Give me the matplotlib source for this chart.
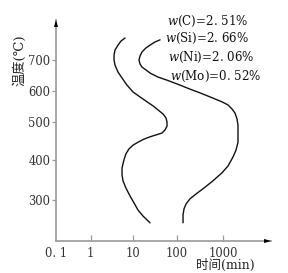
import numpy as np
import matplotlib
matplotlib.use("Agg")
import matplotlib.pyplot as plt
from matplotlib.ticker import FixedLocator, FixedFormatter, NullLocator

# ---------------- data ----------------
x_ticks = [0.1, 1, 10, 100, 1000]
x_tick_labels = ["0. 1", "1", "10", "100", "1000"]
y_ticks = [300, 400, 500, 600, 700]
y_tick_labels = ["300", "400", "500", "600", "700"]

# start-of-transformation curve (time in min, temperature in C)
start_time = [6.47, 5.2, 4.42, 3.75, 3.56, 3.56, 3.75, 4.42, 5.5, 7.2, 10, 14.4, 21, 28.7,
              37.3, 48.6, 56.9, 60, 60, 54, 46, 33.6, 24.5, 17.9, 13.1, 10, 8.0, 6.8,
              6.1, 5.5, 5.5, 5.8, 6.8, 8.5, 10.5, 13.0, 16.9, 24.5]
start_temp = [771, 761, 748, 732, 716, 700, 684, 661, 642, 619, 597, 581, 565, 552,
              539, 526, 513, 500, 489, 479, 471, 466, 461, 455, 447, 439, 429, 416,
              400, 380, 363, 348, 330, 310, 293, 275, 260, 243]
# finish-of-transformation curve
finish_time = [41.5, 31.8, 24.5, 19.8, 16.1, 14.5, 13.7, 14.5, 16.1, 19.8, 24.5, 37.3, 60,
               118, 194, 318, 608, 951, 1282, 1565, 1815, 2005, 2108, 2108, 2108, 1910,
               1645, 1282, 951, 608, 389, 261, 194, 159, 144, 137, 137, 137]
finish_temp = [765, 758, 748, 739, 726, 713, 700, 687, 677, 668, 658, 645, 635,
               619, 606, 594, 577, 565, 555, 542, 529, 510, 492, 471, 447, 426,
               408, 385, 368, 348, 330, 315, 303, 290, 278, 263, 253, 243]

composition = ["$w$(C)=2. 51%", "$w$(Si)=2. 66%", "$w$(Ni)=2. 06%", "$w$(Mo)=0. 52%"]
x_label = "时间(min)"
y_label = "温度(℃)"

# ---------------- scale helpers (hand-drawn, non-uniform axes) ----------------
def make_interp(xk, yk):
    xk = np.asarray(xk, float)
    yk = np.asarray(yk, float)
    s0 = (yk[1] - yk[0]) / (xk[1] - xk[0])
    s1 = (yk[-1] - yk[-2]) / (xk[-1] - xk[-2])

    def f(v):
        v = np.asarray(v, float)
        out = np.interp(v, xk, yk)
        out = np.where(v < xk[0], yk[0] + (v - xk[0]) * s0, out)
        out = np.where(v > xk[-1], yk[-1] + (v - xk[-1]) * s1, out)
        return out
    return f

W, H = 288, 273
# x: log10(time) -> pixel column
xk_log = [-1, 0, 1, 2, 3]
xk_pos = [56, 90.7, 133, 176.7, 223]
_xf = make_interp(xk_log, xk_pos)
_xi = make_interp(xk_pos, xk_log)

def x_forward(v):
    v = np.asarray(v, float)
    return _xf(np.log10(np.clip(v, 1e-12, None)))

def x_inverse(p):
    return 10 ** _xi(p)

# y: temperature -> pixel height from bottom
yk_T = [300, 400, 500, 600, 700]
yk_pos = [H - 200, H - 160, H - 122, H - 91, H - 60]
y_forward = make_interp(yk_T, yk_pos)
y_inverse = make_interp(yk_pos, yk_T)

# ---------------- figure ----------------
plt.rcParams["mathtext.fontset"] = "dejavuserif"
fig = plt.figure(figsize=(W / 100, H / 100), dpi=100)
left_px, right_px, top_px, bot_px = 56, 271, 20, 241
ax = fig.add_axes([left_px / W, 1 - bot_px / H, (right_px - left_px) / W, (bot_px - top_px) / H])

ax.set_xscale("function", functions=(x_forward, x_inverse))
ax.set_yscale("function", functions=(y_forward, y_inverse))
ax.set_xlim(0.1, float(x_inverse(right_px)))
ax.set_ylim(float(y_inverse(H - bot_px)), float(y_inverse(H - top_px)))

ax.plot(start_time, start_temp, color="#111111", lw=1.0, solid_capstyle="round",
        solid_joinstyle="round")
ax.plot(finish_time, finish_temp, color="#111111", lw=1.0, solid_capstyle="round",
        solid_joinstyle="round")

serif = ["DejaVu Serif"]
ax.xaxis.set_major_locator(FixedLocator(x_ticks))
ax.xaxis.set_major_formatter(FixedFormatter(x_tick_labels))
ax.xaxis.set_minor_locator(NullLocator())
ax.yaxis.set_major_locator(FixedLocator(y_ticks))
ax.yaxis.set_major_formatter(FixedFormatter(y_tick_labels))
ax.yaxis.set_minor_locator(NullLocator())

gray = "#9a9a9a"
ax.tick_params(axis="x", direction="in", length=4, width=0.9, color=gray, pad=4,
               labelsize=8.3, labelcolor="#333333")
ax.tick_params(axis="y", direction="out", length=3, width=0.9, color=gray, pad=1,
               labelsize=8.3, labelcolor="#333333")
for lab in ax.get_xticklabels() + ax.get_yticklabels():
    lab.set_fontfamily(serif)
ax.xaxis.get_major_ticks()[0].tick1line.set_visible(False)

for s in ["top", "right"]:
    ax.spines[s].set_visible(False)
for s in ["left", "bottom"]:
    ax.spines[s].set_color(gray)
    ax.spines[s].set_linewidth(1.2)

# arrow heads
ax.annotate("", xy=(0, 1.0), xytext=(0, 0.95), xycoords="axes fraction",
            arrowprops=dict(arrowstyle="-|>,head_length=0.5,head_width=0.15",
                            color="black", lw=0.0, shrinkA=0, shrinkB=0))
ax.annotate("", xy=(1.0, 0), xytext=(0.95, 0), xycoords="axes fraction",
            arrowprops=dict(arrowstyle="-|>,head_length=0.5,head_width=0.15",
                            color="black", lw=0.0, shrinkA=0, shrinkB=0))

# composition text
comp_pos = [(167, 21), (165, 38), (168, 57), (170, 76)]
for txt, (px, py) in zip(composition, comp_pos):
    fig.text(px / W, 1 - py / H, txt, ha="left", va="center", fontsize=8.6,
             family=serif, color="#111111")

# axis labels
cjk = ["DejaVu Serif", "Noto Sans CJK SC"]
fig.text(20 / W, 1 - 60 / H, y_label, rotation=90, ha="center", va="center",
         fontsize=9.5, family=cjk, color="#222222")
fig.text(225 / W, 1 - 265 / H, x_label, ha="center", va="center",
         fontsize=9, family=cjk, color="#222222")

fig.savefig("out.png", dpi=100)
